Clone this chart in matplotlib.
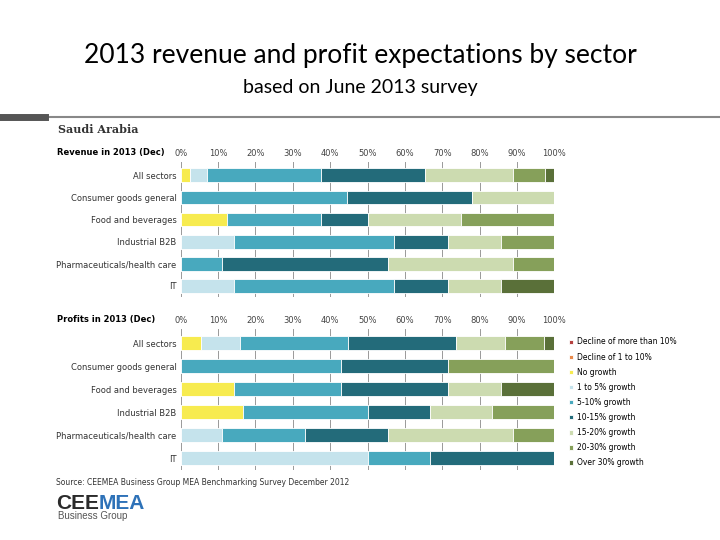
import matplotlib.pyplot as plt
import numpy as np

sectors = ['All sectors', 'Consumer goods general', 'Food and beverages',
           'Industrial B2B', 'Pharmaceuticals/health care', 'IT']
groups = ['Decline of more than 10%', 'Decline of 1 to 10%', 'No growth',
          '1 to 5% growth', '5-10% growth', '10-15% growth',
          '15-20% growth', '20-30% growth', 'Over 30% growth']
colors = ['#B5413F', '#E8894A', '#F7EB4F', '#C5E3EC', '#48A9BE',
          '#236B7A', '#CCDBB0', '#86A05A', '#5A7039']

# rows = sectors, columns = groups (percent)
revenue = [
    [0, 0, 2.5, 4.5, 30.5, 28.0, 23.5, 8.5, 2.5],
    [0, 0, 0, 0, 44.5, 33.5, 22.0, 0, 0],
    [0, 0, 12.5, 0, 25.0, 12.5, 25.0, 25.0, 0],
    [0, 0, 0, 14.3, 42.9, 14.3, 14.3, 14.2, 0],
    [0, 0, 0, 0, 11.1, 44.4, 33.3, 11.2, 0],
    [0, 0, 0, 14.3, 42.9, 14.3, 14.3, 0, 14.2],
]
profits = [
    [0, 0, 5.3, 10.5, 28.9, 28.9, 13.2, 10.5, 2.7],
    [0, 0, 0, 0, 42.9, 28.6, 0, 28.5, 0],
    [0, 0, 14.3, 0, 28.6, 28.6, 14.3, 0, 14.2],
    [0, 0, 16.7, 0, 33.3, 16.7, 16.7, 16.6, 0],
    [0, 0, 0, 11.1, 22.2, 22.2, 33.3, 11.2, 0],
    [0, 0, 0, 50.0, 16.7, 33.3, 0, 0, 0],
]
xticks = np.arange(0, 101, 10)

fig = plt.figure(figsize=(7.2, 5.4), dpi=100)
fig.text(0.5, 0.884, '2013 revenue and profit expectations by sector',
         ha='center', fontsize=19, family='Lato')
fig.text(0.5, 0.828, 'based on June 2013 survey', ha='center', fontsize=14,
         family='Lato')
fig.add_artist(plt.Line2D([0.0, 1.0], [0.784, 0.784], color='#888888', lw=1.5))
fig.add_artist(plt.Line2D([0.0, 0.062], [0.784, 0.784], color='#555555', lw=5))
fig.text(0.08, 0.753, 'Saudi Arabia', fontsize=8, fontweight='bold',
         family='DejaVu Serif', color='#333333')


def draw(ax, data, title, legend=False):
    data = np.array(data)
    y = np.arange(len(sectors))
    left = np.zeros(len(sectors))
    for j, g in enumerate(groups):
        ax.barh(y, data[:, j], left=left, height=0.62, color=colors[j],
                label=g, edgecolor='white', linewidth=0.6, zorder=2)
        left += data[:, j]
    ax.set_yticks(y)
    ax.set_yticklabels(sectors, fontsize=6, color='#333333')
    ax.invert_yaxis()
    ax.set_xlim(0, 100)
    ax.set_ylim(len(sectors) - 0.5, -0.6)
    ax.set_xticks(xticks)
    ax.set_xticklabels([f'{v}%' for v in xticks], fontsize=6, color='#444444')
    ax.xaxis.tick_top()
    ax.tick_params(length=0, pad=3)
    ax.grid(axis='x', color='#999999', lw=0.7, zorder=0)
    for s in ax.spines.values():
        s.set_visible(False)
    ax.text(-0.33, 1.04, title, transform=ax.transAxes, fontsize=6,
            fontweight='bold', ha='left', va='bottom')
    if legend:
        ax.legend(loc='center left', bbox_to_anchor=(1.02, 0.48), frameon=False,
                  fontsize=5.5, handlelength=0.5, handleheight=0.5,
                  labelspacing=0.8, handletextpad=0.6)


ax1 = fig.add_axes([0.251, 0.45, 0.519, 0.25])
draw(ax1, revenue, 'Revenue in 2013 (Dec)')
ax2 = fig.add_axes([0.251, 0.13, 0.519, 0.26])
draw(ax2, profits, 'Profits in 2013 (Dec)', legend=True)

fig.text(0.078, 0.102, 'Source: CEEMEA Business Group MEA Benchmarking Survey December 2012',
         fontsize=5.5, color='#333333')
fig.text(0.078, 0.058, 'CEE', fontsize=15, fontweight='bold', color='#2B2B2B',
         family='Liberation Sans')
fig.text(0.137, 0.058, 'MEA', fontsize=15, fontweight='bold', color='#2E72B8',
         family='Liberation Sans')
fig.text(0.08, 0.038, 'Business Group', fontsize=7, color='#555555',
         family='Liberation Sans')

fig.savefig('out.png', dpi=100)
